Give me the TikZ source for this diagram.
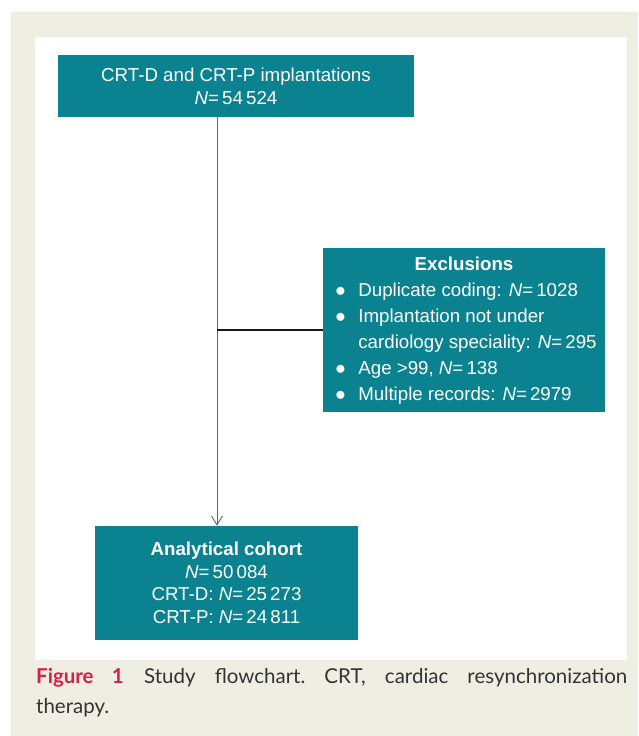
\documentclass[tikz,border=0pt]{standalone}
\usepackage{fontspec}
\setmainfont{Liberation Sans}
\newfontfamily\capfont{Lato}
\usepackage{array}
\usetikzlibrary{positioning,arrows.meta}
\definecolor{flowteal}{HTML}{0A8290}
\definecolor{paper}{HTML}{EFEEE3}
\definecolor{figred}{HTML}{D51F4C}
\newcommand{\nval}[1]{\textit{N}=\,#1}
\newcommand{\blt}{\hspace{4pt}\scalebox{1.2}{$\bullet$}}

\begin{document}
\begin{tikzpicture}[x=1pt,y=-1pt,
    box/.style={fill=flowteal, text=white, inner sep=0pt, align=center,
        font=\fontsize{18.7}{23}\selectfont},
    link/.style={line width=0.9pt, draw=black!60}]
    % page and frame
    \useasboundingbox (0,0) rectangle (638,736);
    \fill[white] (0,0) rectangle (638,736);
    \fill[paper] (11,12) rectangle (638,736);
    \fill[white] (35,37) rectangle (627,660);
    % boxes
    \node[box, minimum width=356, minimum height=62] (implant) at (236,86)
        {CRT-D and CRT-P implantations\\ \nval{54\,524}};
    \node[box, minimum width=282, minimum height=164] (excl) at (464,330)
        {\renewcommand{\arraystretch}{1.13}%
        \raisebox{-2pt}{\begin{tabular}{@{}p{27pt}@{}l@{}}
            \multicolumn{2}{@{}c@{}}{\textbf{Exclusions}}\\
            \blt & Duplicate coding: \nval{1028}\\
            \blt & Implantation not under\\
                 & cardiology speciality: \nval{295}\\
            \blt & Age >99, \nval{138}\\
            \blt & Multiple records: \nval{2979}
        \end{tabular}}};
    \node[box, minimum width=263, minimum height=114,
        font=\fontsize{18.7}{22.5}\selectfont] (cohort) at (226.5,583)
        {\textbf{Analytical cohort}\\ \nval{50\,084}\\
         CRT-D: \nval{25\,273}\\ CRT-P: \nval{24\,811}};
    % connectors
    \coordinate (split) at (217,330);
    \draw[link, -{Straight Barb[length=9pt,width=11pt]}]
        (implant.south -| split) -- (cohort.north -| split);
    \draw[line width=1.3pt, black!90] (split) -- (excl.west |- split);
    % caption
    \node[anchor=north west, inner sep=0pt, text width=591, align=justify,
        text=black!80, font=\capfont\frenchspacing\fontsize{20.5}{30}\selectfont] (caption) at (36,668)
        {\textcolor{figred}{\textbf{Figure 1}}\quad Study flowchart. CRT, cardiac resynchronization\linebreak therapy.};
\end{tikzpicture}
\end{document}
